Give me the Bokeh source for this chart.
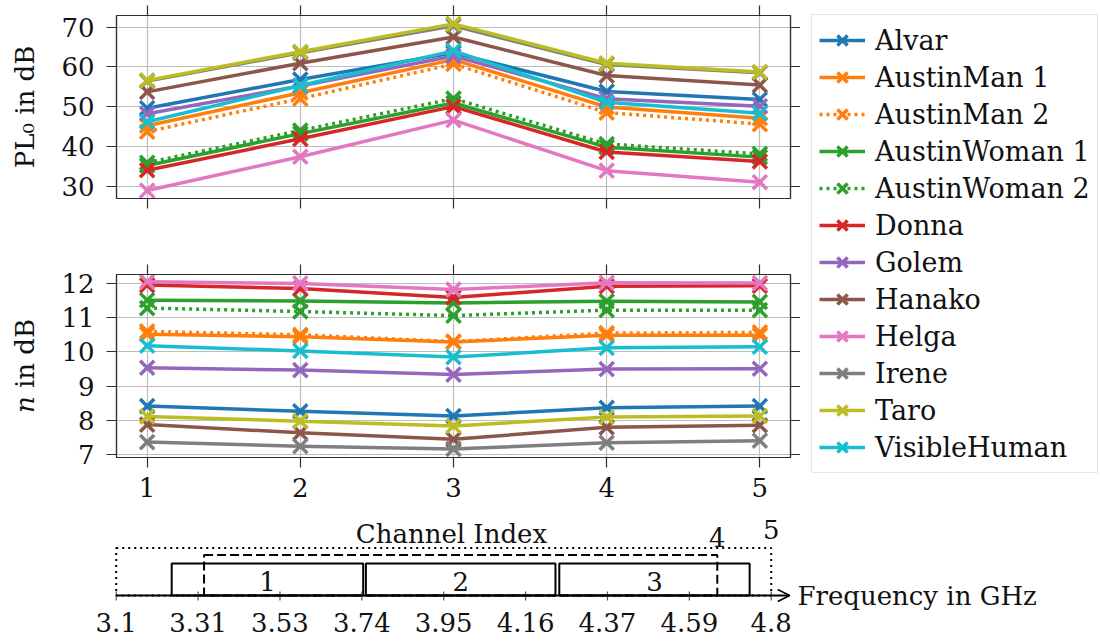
from bokeh.plotting import figure
from bokeh.layouts import column, row
from bokeh.models import (Range1d, FixedTicker, LinearAxis, Legend, LegendItem,
                          Arrow, OpenHead, Grid)
from bokeh.embed import file_html
from bokeh.resources import INLINE
from bokeh.core.properties import value

FONT = "DejaVu Serif"
FS = "26px"

# ---------------- data ----------------
channel_index = [1, 2, 3, 4, 5]

names = ["Alvar", "AustinMan 1", "AustinMan 2", "AustinWoman 1", "AustinWoman 2",
         "Donna", "Golem", "Hanako", "Helga", "Irene", "Taro", "VisibleHuman"]
colors = ["#1f77b4", "#ff7f0e", "#ff7f0e", "#2ca02c", "#2ca02c", "#d62728",
          "#9467bd", "#8c564b", "#e377c2", "#7f7f7f", "#bcbd22", "#17becf"]
dotted = [False, False, True, False, True, False, False, False, False, False, False, False]

# PL0 in dB
pl0_alvar = [49.6, 56.8, 63.5, 53.8, 51.8]
pl0_austinman1 = [45.2, 53.5, 61.8, 49.9, 47.1]
pl0_austinman2 = [43.7, 52.0, 60.7, 48.5, 45.6]
pl0_austinwoman1 = [35.2, 43.2, 50.9, 39.8, 37.3]
pl0_austinwoman2 = [35.9, 44.0, 52.0, 40.6, 38.1]
pl0_donna = [34.0, 41.9, 50.0, 38.6, 36.2]
pl0_golem = [48.2, 55.2, 62.7, 52.0, 50.1]
pl0_hanako = [53.7, 60.9, 67.5, 57.8, 55.4]
pl0_helga = [28.9, 37.4, 46.6, 33.9, 31.0]
pl0_irene = [56.4, 63.5, 70.3, 60.6, 58.5]
pl0_taro = [56.6, 63.8, 70.8, 60.9, 58.7]
pl0_visiblehuman = [46.2, 55.3, 64.0, 51.1, 48.3]

# n in dB
n_alvar = [8.42, 8.27, 8.13, 8.37, 8.42]
n_austinman1 = [10.52, 10.44, 10.29, 10.49, 10.49]
n_austinman2 = [10.60, 10.50, 10.30, 10.55, 10.57]
n_austinwoman1 = [11.51, 11.49, 11.43, 11.48, 11.46]
n_austinwoman2 = [11.28, 11.18, 11.06, 11.22, 11.22]
n_donna = [11.95, 11.85, 11.59, 11.92, 11.93]
n_golem = [9.54, 9.47, 9.34, 9.50, 9.51]
n_hanako = [7.88, 7.64, 7.45, 7.80, 7.86]
n_helga = [12.05, 12.00, 11.82, 12.02, 12.01]
n_irene = [7.37, 7.25, 7.17, 7.35, 7.41]
n_taro = [8.12, 7.98, 7.84, 8.10, 8.13]
n_visiblehuman = [10.18, 10.03, 9.85, 10.12, 10.15]

pl0_all = [pl0_alvar, pl0_austinman1, pl0_austinman2, pl0_austinwoman1, pl0_austinwoman2,
           pl0_donna, pl0_golem, pl0_hanako, pl0_helga, pl0_irene, pl0_taro, pl0_visiblehuman]
n_all = [n_alvar, n_austinman1, n_austinman2, n_austinwoman1, n_austinwoman2,
         n_donna, n_golem, n_hanako, n_helga, n_irene, n_taro, n_visiblehuman]

pl0_ticks = [30, 40, 50, 60, 70]
n_ticks = [7, 8, 9, 10, 11, 12]

# frequency band diagram (GHz)
freq_ticks = [3.1, 3.3125, 3.525, 3.7375, 3.95, 4.1625, 4.375, 4.5875, 4.8]
freq_tick_labels = ["3.1", "3.31", "3.53", "3.74", "3.95", "4.16", "4.37", "4.59", "4.8"]
chan_labels = ["1", "2", "3", "4", "5"]
chan_lo = [3.244, 3.748, 4.250, 3.328, 3.1]
chan_hi = [3.741, 4.240, 4.744, 4.660, 4.8]

DOT = "3 4"
LW = 3.5
MS = 20
MLW = 3.5


def axis(ticks, label=None, show_labels=True):
    ax = LinearAxis(ticker=FixedTicker(ticks=ticks))
    ax.axis_line_color = "#303030"
    ax.axis_line_width = 1.2
    ax.major_tick_line_color = "#303030"
    ax.major_tick_line_width = 1.2
    ax.major_tick_out = 10
    ax.major_tick_in = 0
    ax.minor_tick_line_color = None
    ax.major_label_text_font = FONT
    ax.major_label_text_color = "#111111"
    if show_labels:
        ax.major_label_text_font_size = FS
        ax.major_label_standoff = 12
    else:
        ax.major_label_text_font_size = "0px"
        ax.major_label_standoff = 0
        ax.major_label_overrides = {t: "" for t in ticks}
    if label is not None:
        ax.axis_label = label
        ax.axis_label_text_font = FONT
        ax.axis_label_text_font_size = FS
        ax.axis_label_text_font_style = "normal"
        ax.axis_label_text_color = "#111111"
        ax.axis_label_standoff = 18
    return ax


def panel(y_lo, y_hi, yticks, ylabel, data, height, top_border, bottom_border, xlabels):
    p = figure(width=800, height=height, x_range=Range1d(0.8, 5.2),
               y_range=Range1d(y_lo, y_hi), output_backend="svg", toolbar_location=None,
               x_axis_location=None, y_axis_location=None,
               min_border_left=116, min_border_right=10,
               min_border_top=top_border, min_border_bottom=bottom_border)
    p.outline_line_color = "#303030"
    p.outline_line_width = 1.2
    p.add_layout(axis(yticks, ylabel, True), "left")
    p.add_layout(axis(yticks, None, False), "right")
    p.add_layout(axis(channel_index, None, False), "above")
    bx = axis(channel_index, None, xlabels)
    if xlabels:
        bx.major_label_standoff = 10
    p.add_layout(bx, "below")
    p.add_layout(Grid(dimension=0, ticker=FixedTicker(ticks=channel_index),
                      grid_line_color="#bdbdbd", grid_line_width=1.2))
    p.add_layout(Grid(dimension=1, ticker=FixedTicker(ticks=yticks),
                      grid_line_color="#bdbdbd", grid_line_width=1.2))
    for vals, c, d in zip(data, colors, dotted):
        p.line(channel_index, vals, line_color=c, line_width=LW,
               line_dash=DOT if d else "solid", line_join="round")
        p.scatter(channel_index, vals, marker="x", size=MS, line_color=c, line_width=MLW)
    return p


f1 = panel(26.9, 72.9, pl0_ticks, "PL₀ in dB", pl0_all, 250, 15, 52, False)
f2 = panel(6.92, 12.26, n_ticks, "𝑛 in dB", n_all, 260, 24, 53, True)

# ---------------- legend figure (series drawn out of view, only legend visible) ----------------
fleg = figure(width=300, height=510, x_range=Range1d(-20, -19), y_range=Range1d(-20, -19),
              output_backend="svg", toolbar_location=None,
              x_axis_location=None, y_axis_location=None,
              min_border_left=0, min_border_right=0, min_border_top=0, min_border_bottom=0)
fleg.outline_line_color = None
fleg.xgrid.visible = False
fleg.ygrid.visible = False
items = []
for nm, vals, c, d in zip(names, pl0_all, colors, dotted):
    r1 = fleg.line(channel_index, vals, line_color=c, line_width=LW,
                   line_dash=DOT if d else "solid")
    r2 = fleg.scatter(channel_index, vals, marker="x", size=MS, line_color=c, line_width=MLW)
    items.append(LegendItem(label=nm, renderers=[r1, r2]))
legend = Legend(items=items, location=(11, 37), glyph_width=46, glyph_height=36,
                label_height=36, spacing=1, padding=7, margin=0, label_standoff=10,
                border_line_color="#cfcfcf", border_line_width=1.5,
                background_fill_color="white", background_fill_alpha=1.0,
                label_text_font=FONT, label_text_font_size="27px", label_text_color="#111111")
fleg.add_layout(legend)

# ---------------- frequency band diagram ----------------
# frame covers the whole 1100x131 strip: 1 y-unit = 1 px, axis at y = 0
f3 = figure(width=1100, height=131, x_range=Range1d(2.7997, 5.6546), y_range=Range1d(-46, 85),
            output_backend="svg", toolbar_location=None,
            x_axis_location=None, y_axis_location=None,
            min_border_left=0, min_border_right=0, min_border_top=0, min_border_bottom=0)
f3.outline_line_color = None
f3.xgrid.visible = False
f3.ygrid.visible = False

chan_level = [32, 32, 32, 40.5, 47.5]
chan_dash = ["solid", "solid", "solid", "9 4", "2 4"]
for lo, hi, lev, dsh in zip(chan_lo, chan_hi, chan_level, chan_dash):
    f3.quad(left=[lo], right=[hi], bottom=[0], top=[lev], fill_color=None,
            line_color="black", line_width=2.0, line_dash=dsh)

# frequency axis: ticks, labels and arrow
f3.segment(x0=freq_ticks, y0=[-5] * len(freq_ticks), x1=freq_ticks, y1=[4] * len(freq_ticks),
           line_color="#555555", line_width=1.2)
f3.add_layout(Arrow(end=OpenHead(size=12, line_width=1.5, line_color="black"),
                    x_start=freq_ticks[0], y_start=0, x_end=4.848, y_end=0,
                    line_width=2, line_color="black"))
f3.text(x=freq_ticks, y=[-27] * len(freq_ticks), text=freq_tick_labels, text_font=value(FONT),
        text_font_size=value(FS), text_align="center", text_baseline="middle",
        text_color="#111111")

lab_x = [(chan_lo[i] + chan_hi[i]) / 2 for i in range(3)] + [chan_hi[3], chan_hi[4]]
lab_y = [14, 14, 14, 58, 66]
f3.text(x=lab_x, y=lab_y, text=chan_labels, text_font=value(FONT),
        text_font_size=value(FS), text_align="center", text_baseline="middle",
        text_color="#111111")
f3.text(x=[3.97], y=[62], text=["Channel Index"], text_font=value(FONT),
        text_font_size=value(FS), text_align="center", text_baseline="middle",
        text_color="#111111")
f3.text(x=[4.868], y=[0], text=["Frequency in GHz"], text_font=value(FONT),
        text_font_size=value(FS), text_align="left", text_baseline="middle",
        text_color="#111111")

layout = column(row(column(f1, f2), fleg), f3)
open("out.html", "w").write(file_html(layout, INLINE))
